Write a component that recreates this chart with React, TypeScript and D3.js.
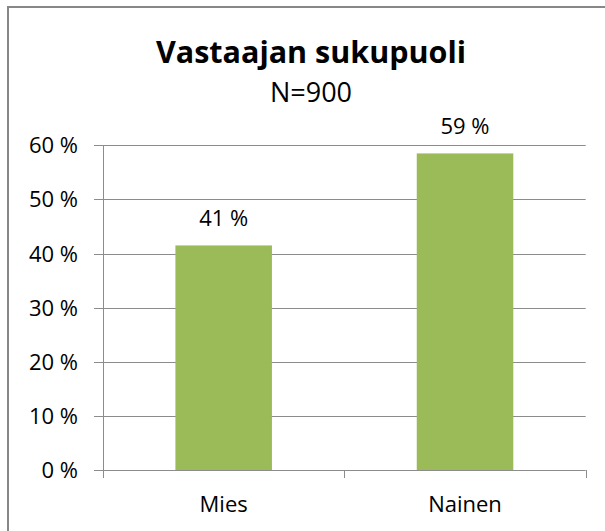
import React from "react";
import * as d3 from "d3";

const categories = ["Mies", "Nainen"];
const values = [41.5, 58.5];
const valueLabels = ["41 %", "59 %"];
const yTicks = [0, 10, 20, 30, 40, 50, 60];
const title = "Vastaajan sukupuoli";
const subtitle = "N=900";

const W = 605;
const H = 531;
const FONT = "'Open Sans', 'Noto Sans', sans-serif";

export default function App() {
  const x = d3.scaleBand<string>().domain(categories).range([103, 585.7]).padding(0);
  const y = d3.scaleLinear().domain([0, 60]).range([470, 145.3]);
  const barW = x.bandwidth() * 0.4;
  const gridColor = "#8c8c8c";
  const catEdges = [103, ...categories.map((c) => (x(c) as number) + x.bandwidth())];

  return (
    <svg
      width={W}
      height={H}
      style={{ position: "absolute", left: 0, top: 0, background: "#fff" }}
      fontFamily={FONT}
    >
      <rect x={8} y={7} width={800} height={800} fill="#fff" stroke="#878787" strokeWidth={2} />
      <text x={311} y={63} textAnchor="middle" fontSize={30.5} fontWeight="bold" fill="#000">
        {title}
      </text>
      <text x={311} y={101.5} textAnchor="middle" fontSize={27} fill="#000">
        {subtitle}
      </text>
      {yTicks.map((t) => (
        <g key={t}>
          <line x1={94} x2={585.7} y1={Math.round(y(t)) + 0.5} y2={Math.round(y(t)) + 0.5} stroke={gridColor} strokeWidth={1} />
          <text x={78} y={y(t) + 8} textAnchor="end" fontSize={22} fill="#000">
            {`${t} %`}
          </text>
        </g>
      ))}
      <line x1={103.5} x2={103.5} y1={y(60)} y2={y(0)} stroke={gridColor} strokeWidth={1} />
      {catEdges.map((e, i) => (
        <line key={i} x1={Math.round(e) + 0.5} x2={Math.round(e) + 0.5} y1={y(0)} y2={y(0) + 8} stroke={gridColor} strokeWidth={1} />
      ))}
      {categories.map((c, i) => {
        const cx = (x(c) as number) + x.bandwidth() / 2;
        return (
          <g key={c}>
            <rect x={cx - barW / 2} y={y(values[i])} width={barW} height={y(0) - y(values[i])} fill="#9bbb59" />
            <text x={cx} y={y(values[i]) - 19} textAnchor="middle" fontSize={22} fill="#000">
              {valueLabels[i]}
            </text>
            <text x={cx} y={511.7} textAnchor="middle" fontSize={22} fill="#000">
              {c}
            </text>
          </g>
        );
      })}
    </svg>
  );
}
